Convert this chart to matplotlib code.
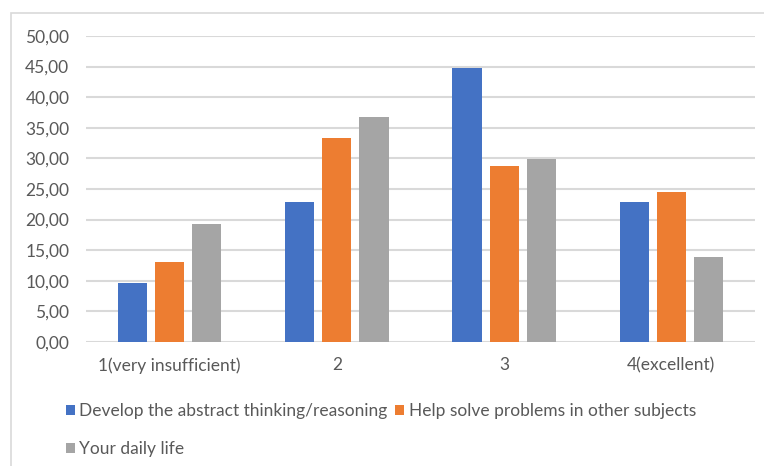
import numpy as np
import matplotlib.pyplot as plt
from matplotlib.patches import Rectangle

# Data
categories = ['1(very insufficient)', '2', '3', '4(excellent)']
abstract = [9.6, 22.8, 44.7, 22.8]
other_subjects = [13.1, 33.3, 28.8, 24.5]
daily_life = [19.3, 36.8, 29.9, 13.9]
series_names = ['Develop the abstract thinking/reasoning',
                'Help solve problems in other subjects',
                'Your daily life']
colors = ['#4472C4', '#ED7D31', '#A5A5A5']

plt.rcParams['font.family'] = ['Lato', 'DejaVu Sans']

W, H = 764, 466
fig = plt.figure(figsize=(W / 100, H / 100), dpi=100)
ax = fig.add_axes([86 / W, 1 - 342 / H, (755 - 86) / W, (342 - 36) / H])

x = np.arange(len(categories))
width = 0.174
step = 0.222
bars = []
for i, (vals, name, c) in enumerate(zip([abstract, other_subjects, daily_life], series_names, colors)):
    b = ax.bar(x + (i - 1) * step, vals, width, color=c, label=name, zorder=3)
    bars.append(b)

ax.set_xlim(-0.5, len(categories) - 0.5)
ax.set_ylim(0, 50)
ax.set_yticks(np.arange(0, 51, 5))
ax.set_yticklabels([f'{v:.2f}'.replace('.', ',') for v in np.arange(0, 51, 5)])
ax.set_xticks(x)
ax.set_xticklabels(categories)
ax.tick_params(axis='both', length=0, labelsize=12.5, labelcolor='#595959')
ax.tick_params(axis='y', pad=12)
ax.tick_params(axis='x', pad=11)
ax.grid(axis='y', color='#d9d9d9', linewidth=1.5, zorder=0)
for s in ax.spines.values():
    s.set_visible(False)

# legend filled row by row: blue, orange / gray
handles = [bars[0], bars[2], bars[1]]
labels = [series_names[0], series_names[2], series_names[1]]
fig.legend(handles, labels, ncol=2, frameon=False, loc='upper left',
           bbox_to_anchor=(66 / W, 1 - 403 / H), fontsize=12.5,
           handlelength=0.52, handleheight=0.52, handletextpad=0.25,
           columnspacing=0.45, labelspacing=1.27, borderaxespad=0,
           borderpad=0, labelcolor='#595959')

# outer chart border
fig.patches.append(Rectangle((11 / W, -0.1), 1.2, (H - 13) / H + 0.1,
                             transform=fig.transFigure, fill=False,
                             edgecolor='#d9d9d9', linewidth=1.2))

fig.savefig('out.png', dpi=100)
